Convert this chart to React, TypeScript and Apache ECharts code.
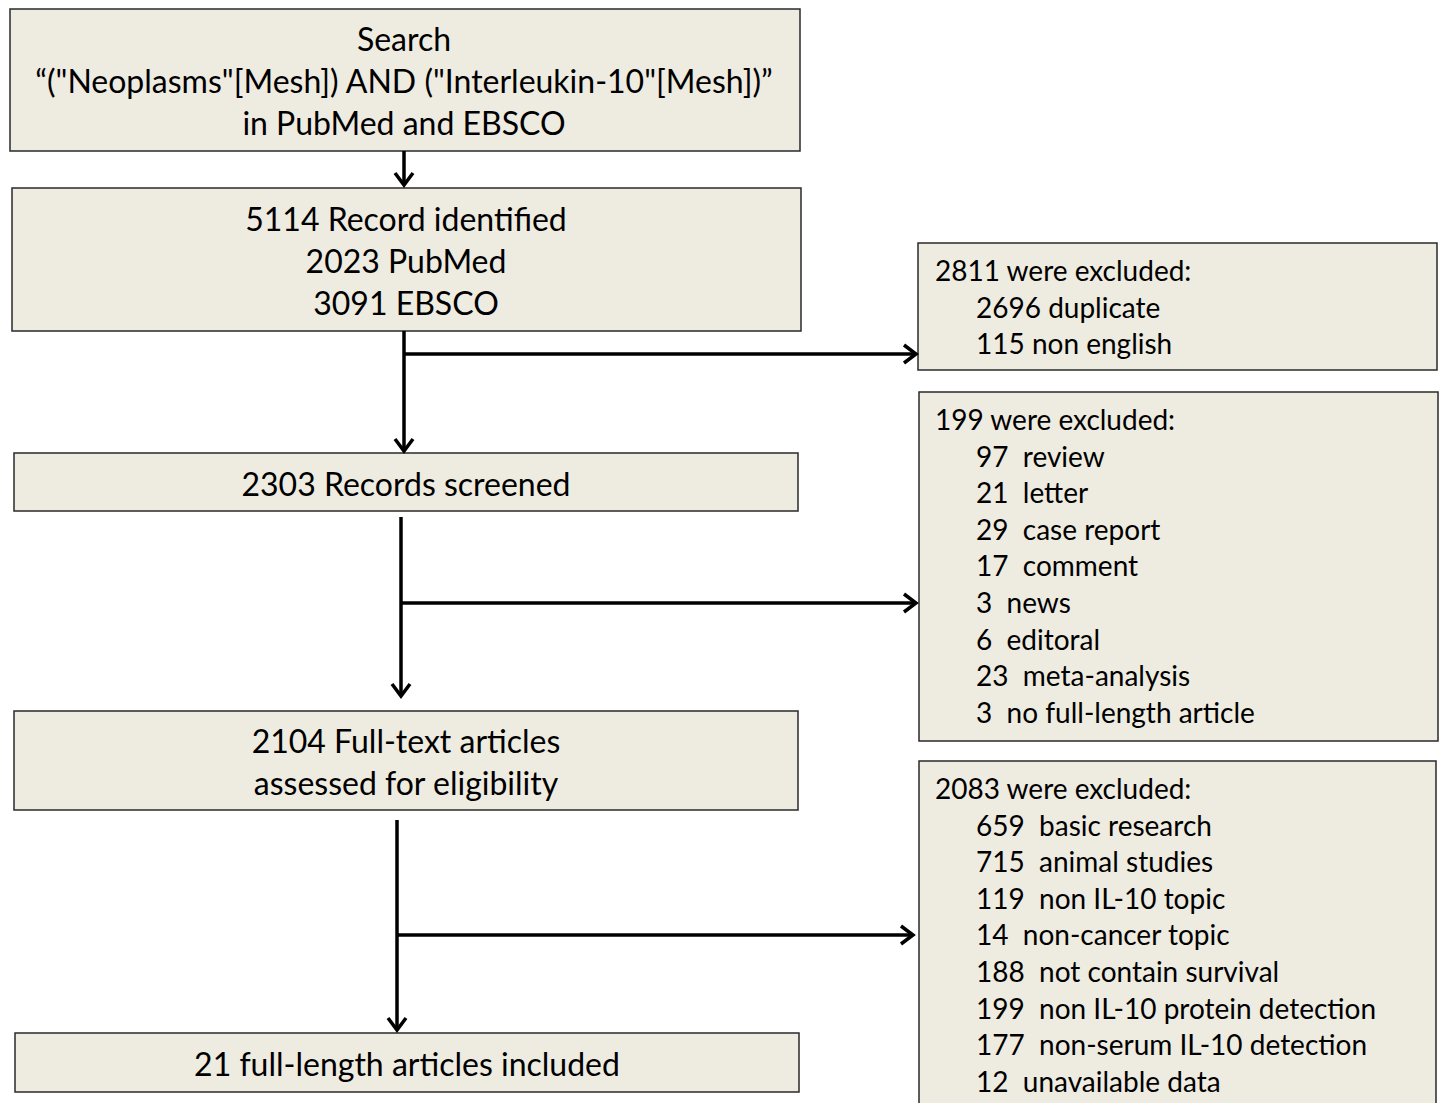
import React, { useEffect, useRef } from "react";
import * as echarts from "echarts";

const mainSteps: string[][] = [
  ["Search", "“(\"Neoplasms\"[Mesh]) AND (\"Interleukin-10\"[Mesh])”", "in PubMed and EBSCO"],
  ["5114 Record identified", "2023 PubMed", "3091 EBSCO"],
  ["2303 Records screened"],
  ["2104 Full-text articles", "assessed for eligibility"],
  ["21 full-length articles included"],
];

const exclusionHeaders = ["2811 were excluded:", "199 were excluded:", "2083 were excluded:"];
const exclusion1Counts = [2696, 115];
const exclusion1Labels = ["duplicate", "non english"];
const exclusion2Counts = [97, 21, 29, 17, 3, 6, 23, 3];
const exclusion2Labels = ["review", "letter", "case report", "comment", "news", "editoral", "meta-analysis", "no full-length article"];
const exclusion3Counts = [659, 715, 119, 14, 188, 199, 177, 12];
const exclusion3Labels = [
  "basic research",
  "animal studies",
  "non IL-10 topic",
  "non-cancer topic",
  "not contain survival",
  "non IL-10 protein detection",
  "non-serum IL-10 detection",
  "unavailable data",
];

const FILL = "#eeebe0";
const STROKE = "#2a2a2a";
const FONT_FAMILY = "Lato, 'Noto Sans', sans-serif";
const MAIN_FONT = `32px ${FONT_FAMILY}`;
const SIDE_FONT = `28px ${FONT_FAMILY}`;

// layout
const mainBoxes = [
  { x: 10, y: 9, w: 790, h: 142, cx: 404, lineY: [38, 80, 122] },
  { x: 12, y: 188, w: 789, h: 143, cx: 406, lineY: [218, 260, 302] },
  { x: 14, y: 453, w: 784, h: 58, cx: 406, lineY: [483] },
  { x: 14, y: 711, w: 784, h: 99, cx: 406, lineY: [740, 782] },
  { x: 15, y: 1033, w: 784, h: 59, cx: 407, lineY: [1063] },
];
const sideBoxes = [
  { x: 918, y: 243, w: 519, h: 127, y0: 270 },
  { x: 919, y: 392, w: 519, h: 349, y0: 419 },
  { x: 919, y: 761, w: 517, h: 360, y0: 788 },
];
const SIDE_STEP = 36.6;

function arrowHeadDown(x: number, y: number) {
  return {
    type: "polyline",
    shape: { points: [[x - 9, y - 13], [x, y - 1], [x + 9, y - 13]] },
    style: { stroke: "#000", lineWidth: 3.5, fill: "none" },
    z: 5,
  };
}
function arrowHeadRight(x: number, y: number) {
  return {
    type: "polyline",
    shape: { points: [[x - 13, y - 9], [x - 1, y], [x - 13, y + 9]] },
    style: { stroke: "#000", lineWidth: 3.5, fill: "none" },
    z: 5,
  };
}
function line(x1: number, y1: number, x2: number, y2: number) {
  return {
    type: "line",
    shape: { x1, y1, x2, y2 },
    style: { stroke: "#000", lineWidth: 3.5 },
    z: 5,
  };
}

export default function App() {
  const ref = useRef<HTMLDivElement>(null);
  useEffect(() => {
    if (!ref.current) return;
    const chart = echarts.init(ref.current, undefined, { renderer: "svg" });
    const elements: any[] = [];

    mainBoxes.forEach((b, i) => {
      elements.push({
        type: "rect",
        shape: { x: b.x, y: b.y, width: b.w, height: b.h },
        style: { fill: FILL, stroke: STROKE, lineWidth: 1.5 },
        z: 1,
      });
      mainSteps[i].forEach((t, j) => {
        elements.push({
          type: "text",
          x: b.cx,
          y: b.lineY[j],
          style: { text: t, font: MAIN_FONT, fill: "#000", textAlign: "center", textVerticalAlign: "middle" },
          z: 3,
        });
      });
    });

    const sideItems = [
      exclusion1Counts.map((c, i) => `${c} ${exclusion1Labels[i]}`),
      exclusion2Counts.map((c, i) => `${c}  ${exclusion2Labels[i]}`),
      exclusion3Counts.map((c, i) => `${c}  ${exclusion3Labels[i]}`),
    ];
    sideBoxes.forEach((b, i) => {
      elements.push({
        type: "rect",
        shape: { x: b.x, y: b.y, width: b.w, height: b.h },
        style: { fill: FILL, stroke: STROKE, lineWidth: 1.5 },
        z: 1,
      });
      elements.push({
        type: "text",
        x: 935,
        y: b.y0,
        style: { text: exclusionHeaders[i], font: SIDE_FONT, fill: "#000", textAlign: "left", textVerticalAlign: "middle" },
        z: 3,
      });
      sideItems[i].forEach((t, j) => {
        elements.push({
          type: "text",
          x: 976,
          y: b.y0 + SIDE_STEP * (j + 1),
          style: { text: t, font: SIDE_FONT, fill: "#000", textAlign: "left", textVerticalAlign: "middle" },
          z: 3,
        });
      });
    });

    // arrows
    elements.push(line(404, 151, 404, 185), arrowHeadDown(404, 186));
    elements.push(line(404, 331, 404, 451), arrowHeadDown(404, 452));
    elements.push(line(404, 354, 916, 354), arrowHeadRight(917, 354));
    elements.push(line(401, 517, 401, 696), arrowHeadDown(401, 697));
    elements.push(line(401, 603, 916, 603), arrowHeadRight(917, 603));
    elements.push(line(397, 820, 397, 1030), arrowHeadDown(397, 1031));
    elements.push(line(397, 935, 913, 935), arrowHeadRight(914, 935));

    chart.setOption({ animation: false, graphic: { elements } });
    return () => chart.dispose();
  }, []);
  return (
    <div
      ref={ref}
      style={{ position: "absolute", left: 0, top: 0, width: 1443, height: 1103, background: "#fff" }}
    />
  );
}
